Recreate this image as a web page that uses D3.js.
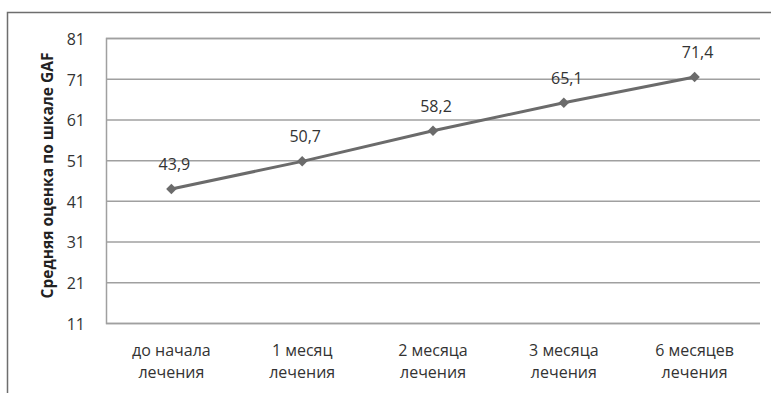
<!DOCTYPE html>
<html><head><meta charset="utf-8">
<script src="https://cdn.jsdelivr.net/npm/d3@7"></script>
<style>body{margin:0;background:#fff}svg{display:block}</style>
</head><body>
<script>
const categories = [["до начала","лечения"],["1 месяц","лечения"],["2 месяца","лечения"],["3 месяца","лечения"],["6 месяцев","лечения"]];
const values = [43.9, 50.7, 58.2, 65.1, 71.4];
const yTicks = [11, 21, 31, 41, 51, 61, 71, 81];
const yTitle = "Средняя оценка по шкале GAF";

const W = 771, H = 393;
const m = {left:106, right:11, top:38, bottom:70};
const font = "'Open Sans', sans-serif";
const svg = d3.select("body").append("svg").attr("width", W).attr("height", H);

// outer frame
svg.append("path").attr("d", `M7.5,${H} V12.5 H${W}`).attr("fill","none").attr("stroke","#6e6e6e").attr("stroke-width",1.5);

const x = d3.scaleBand().domain(d3.range(categories.length)).range([m.left, W - m.right]);
const y = d3.scaleLinear().domain([11, 81]).range([H - m.bottom, m.top]);

const gy = svg.append("g").attr("transform", `translate(${m.left},0)`)
  .call(d3.axisLeft(y).tickValues(yTicks).tickSize(-(W - m.right - m.left)).tickPadding(21));
gy.select(".domain").attr("stroke","#a0a0a0").attr("stroke-width",1.5);
gy.selectAll(".tick line").attr("stroke","#a0a0a0").attr("stroke-width",1.5);
gy.selectAll(".tick text").attr("font-family",font).attr("font-size",16).attr("fill","#333").attr("dy","0.4em");

const gx = svg.append("g").attr("transform", `translate(0,${H - m.bottom})`)
  .call(d3.axisBottom(x).tickSize(0).tickFormat(""));
gx.select(".domain").remove();
gx.selectAll(".tick").each(function(d){
  const t = d3.select(this).append("text").attr("font-family",font).attr("font-size",16).attr("fill","#333").attr("text-anchor","middle");
  categories[d].forEach((s,i)=> t.append("tspan").attr("x",0).attr("y", 33 + i*22).text(s));
});

svg.append("text").attr("transform", `translate(53,${(m.top + H - m.bottom)/2 - 5}) rotate(-90)`)
  .attr("text-anchor","middle").attr("font-family",font).attr("font-size",15.5).attr("font-weight","bold").attr("fill","#222").text(yTitle);

const cx = i => x(i) + x.bandwidth()/2;
svg.append("path").datum(values)
  .attr("d", d3.line().x((d,i)=>cx(i)).y(d=>y(d)))
  .attr("fill","none").attr("stroke","#6b6b6b").attr("stroke-width",3);

svg.selectAll(".pt").data(values).join("path").attr("class","pt")
  .attr("transform",(d,i)=>`translate(${cx(i)},${y(d)})`)
  .attr("d", d3.symbol(d3.symbolDiamond2, 70)).attr("fill","#6b6b6b");

svg.selectAll(".lbl").data(values).join("text").attr("class","lbl")
  .attr("x",(d,i)=>cx(i)+3).attr("y",d=>y(d)-19)
  .attr("text-anchor","middle").attr("font-family",font).attr("font-size",16).attr("fill","#333")
  .text(d=>d.toFixed(1).replace(".", ","));
</script>
</body></html>
